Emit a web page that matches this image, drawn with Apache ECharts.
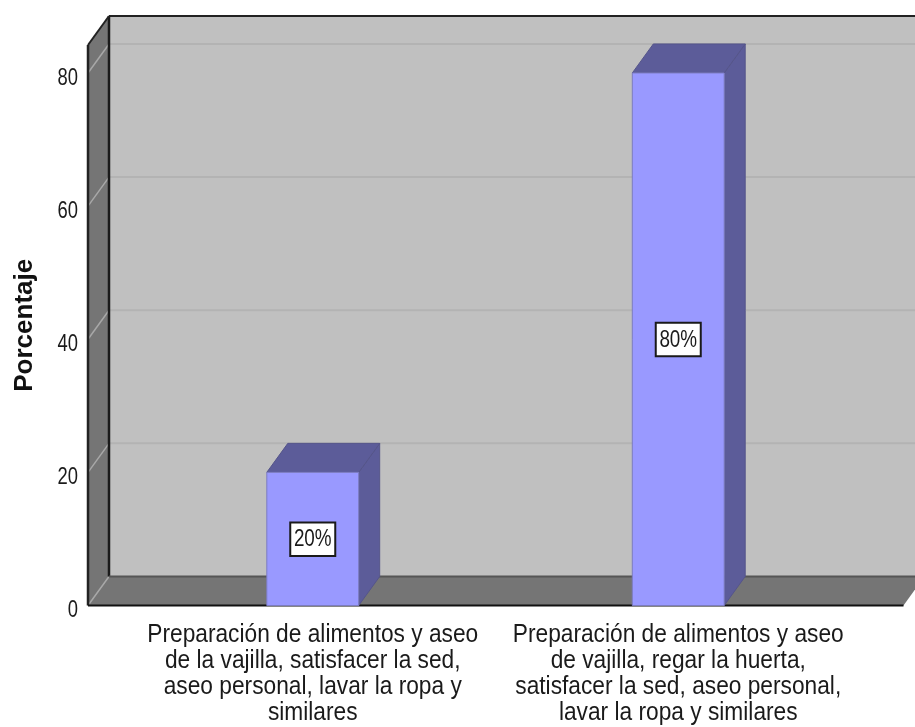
<!DOCTYPE html>
<html><head><meta charset="utf-8">
<style>html,body{margin:0;padding:0;background:#fff}#c{width:915px;height:727px}</style>
<script src="https://cdn.jsdelivr.net/npm/echarts@6/dist/echarts.min.js"></script>
</head><body><div id="c"></div>
<script>
const categories = [
  'Preparación de alimentos y aseo\nde la vajilla, satisfacer la sed,\naseo personal, lavar la ropa y\nsimilares',
  'Preparación de alimentos y aseo\nde vajilla, regar la huerta,\nsatisfacer la sed, aseo personal,\nlavar la ropa y similares'
];
const percentages = [20, 80];
const barLabels = ['20%', '80%'];
const yTicks = [0, 20, 40, 60, 80];
const yMax = 84.2;
const DX = 21, DY = 29, SIDE_L = 42, SIDE_R = 42.5;
const FONT = '"Liberation Sans",Arial,sans-serif';
const INK = '#1a1a1a';

const chart = echarts.init(document.getElementById('c'), null, {renderer:'canvas'});

function renderWalls(params, api) {
  const a = api.coord([0, 0]), b = api.coord([1, 0]);
  const half = (b[0] - a[0]) / 2;
  const x0 = a[0] - half - SIDE_L, y0 = a[1];
  const x1 = b[0] + half + SIDE_R;
  const yTop = api.coord([0, yMax])[1];
  const kids = [];
  const poly = (pts, fill) => ({type:'polygon', shape:{points:pts}, style:{fill}});
  const line = (p, q, stroke, w) => ({type:'line', shape:{x1:p[0],y1:p[1],x2:q[0],y2:q[1]}, style:{stroke, lineWidth:w}});
  kids.push(poly([[x0+DX,yTop-DY],[x1+DX,yTop-DY],[x1+DX,y0-DY],[x0+DX,y0-DY]], '#c0c0c0'));
  kids.push(poly([[x0,yTop],[x0+DX,yTop-DY],[x0+DX,y0-DY],[x0,y0]], '#757575'));
  kids.push(poly([[x0,y0],[x0+DX,y0-DY],[x1+DX,y0-DY],[x1,y0]], '#757575'));
  yTicks.forEach(v => {
    const y = api.coord([0, v])[1];
    if (v > 0) kids.push(line([x0+DX,y-DY],[x1+DX,y-DY],'#b3b3b3',2));
    kids.push(line([x0,y],[x0+DX,y-DY],'#a8a8a8',1.5));
    kids.push({type:'text', x:78, y:y+5.5, scaleX:0.8, style:{text:String(v), x:0, y:0, align:'right', verticalAlign:'middle', fill:INK, font:'23px '+FONT}});
  });
  kids.push(line([x0+DX,yTop-DY],[x1+DX,yTop-DY],'#222222',2));
  kids.push(line([x0+DX,yTop-DY],[x0+DX,y0-DY],'#1a1a1a',2.5));
  kids.push(line([x0,yTop],[x0+DX,yTop-DY],'#222222',2));
  kids.push(line([x0,yTop],[x0,y0],'#222222',2.5));
  kids.push(line([x0,y0],[x1,y0],'#111111',2));
  kids.push(line([x0+DX,y0-DY],[x1+DX,y0-DY],'#555555',2));
  categories.forEach((text, i) => {
    const cx = api.coord([i, 0])[0];
    kids.push({type:'text', x:cx, y:621.5, scaleX:0.874, style:{text, x:0, y:0, align:'center', verticalAlign:'top', lineHeight:26, fill:INK, font:'26px '+FONT}});
  });
  return {type:'group', children:kids};
}

function renderBar(params, api) {
  const i = api.value(0), v = api.value(1);
  const c = api.coord([i, v]), base = api.coord([i, 0]);
  const w = api.size([1, 0])[0] * 0.2514;
  const l = c[0] - w / 2, r = c[0] + w / 2;
  const t = c[1], bm = base[1];
  const kids = [
    {type:'polygon', shape:{points:[[r,t],[r+DX,t-DY],[r+DX,bm-DY],[r,bm]]}, style:{fill:'#5c5c99', stroke:'#55558a', lineWidth:1}},
    {type:'polygon', shape:{points:[[l,t],[l+DX,t-DY],[r+DX,t-DY],[r,t]]}, style:{fill:'#5c5c99', stroke:'#55558a', lineWidth:1}},
    {type:'rect', shape:{x:l,y:t,width:w,height:bm-t}, style:{fill:'#9999ff', stroke:'#7c7cc0', lineWidth:1}},
  ];
  const my = api.coord([i, v / 2])[1];
  kids.push({type:'rect', shape:{x:c[0]-22.5,y:my-16.5,width:45,height:33.5}, style:{fill:'#ffffff', stroke:'#1a1a1a', lineWidth:2}});
  kids.push({type:'text', x:c[0], y:my+1, scaleX:0.82, style:{text:barLabels[params.dataIndex], x:0, y:0, align:'center', verticalAlign:'middle', fill:INK, font:'23px '+FONT}});
  return {type:'group', children:kids};
}

chart.setOption({
  animation:false,
  backgroundColor:'#ffffff',
  grid:{left:130, top:45, width:731, height:560.5, outerBoundsMode:'none'},
  xAxis:{type:'category', data:categories, axisLine:{show:false}, axisTick:{show:false}, splitLine:{show:false}, axisLabel:{show:false}},
  yAxis:{type:'value', min:0, max:yMax, interval:20, offset:42, splitLine:{show:false},
    axisLine:{show:false}, axisTick:{show:false}, axisLabel:{show:false},
    name:'Porcentaje', nameLocation:'middle', nameGap:50,
    nameTextStyle:{color:'#111', fontFamily:FONT, fontWeight:'bold', fontSize:26}},
  series:[
    {type:'custom', coordinateSystem:'cartesian2d', clip:false, z:1, silent:true, data:[[0,0]], renderItem:renderWalls},
    {type:'custom', coordinateSystem:'cartesian2d', clip:false, z:2, silent:true,
      encode:{x:0,y:1}, data:percentages.map((v,i)=>[i,v]), renderItem:renderBar}
  ]
});
</script></body></html>
